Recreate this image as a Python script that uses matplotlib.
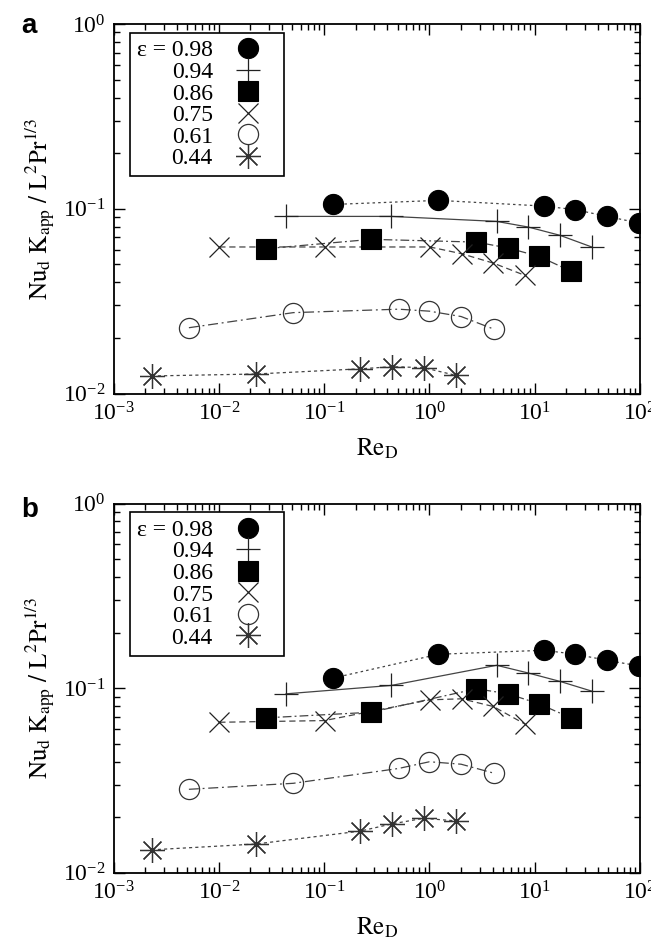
import numpy as np
import matplotlib
matplotlib.use('Agg')
import matplotlib.pyplot as plt

plt.rcParams['font.family'] = ['Liberation Serif', 'DejaVu Serif']
plt.rcParams['mathtext.fontset'] = 'stix'

# Re_D of each porosity series (same in both panels)
re_98 = [0.122, 1.22, 12.2, 24.4, 48.8, 97.7]
re_94 = [0.0435, 0.435, 4.35, 8.7, 17.4, 34.8]
re_86 = [0.028, 0.28, 2.8, 5.6, 11.0, 22.0]
re_75 = [0.0101, 0.101, 1.01, 2.02, 4.04, 8.07]
re_61 = [0.0052, 0.051, 0.51, 1.0, 2.0, 4.1]
re_44 = [0.0023, 0.0224, 0.22, 0.444, 0.88, 1.77]

# panel a
a_98 = [0.1055, 0.111, 0.1034, 0.0988, 0.0909, 0.0837]
a_94 = [0.0909, 0.0909, 0.0854, 0.0796, 0.0718, 0.0621]
a_86 = [0.0608, 0.0683, 0.066, 0.0613, 0.0552, 0.046]
a_75 = [0.0621, 0.0621, 0.0621, 0.0571, 0.0508, 0.0436]
a_61 = [0.0227, 0.0274, 0.0286, 0.0279, 0.0261, 0.0223]
a_44 = [0.01244, 0.01275, 0.0136, 0.01397, 0.0138, 0.01255]

# panel b
b_98 = [0.1134, 0.1525, 0.1603, 0.1525, 0.1414, 0.1318]
b_94 = [0.0931, 0.1034, 0.1329, 0.1207, 0.1087, 0.0963]
b_86 = [0.069, 0.074, 0.0992, 0.0931, 0.0822, 0.069]
b_75 = [0.0653, 0.0667, 0.0864, 0.0875, 0.0795, 0.0639]
b_61 = [0.0283, 0.0305, 0.0367, 0.0399, 0.0387, 0.0346]
b_44 = [0.0133, 0.0143, 0.0168, 0.0184, 0.0197, 0.0191]

labels = ['ε = 0.98', '0.94', '0.86', '0.75', '0.61', '0.44']

# marker / line style per series
styles = [
    dict(marker='o', ms=14.5, mfc='black', mec='black', mew=0.8),
    dict(marker='+', ms=17, mfc='none', mec='#222222', mew=0.9),
    dict(marker='s', ms=14, mfc='black', mec='black', mew=0.8),
    dict(marker='x', ms=14.5, mfc='none', mec='#222222', mew=0.9),
    dict(marker='o', ms=14.5, mfc='none', mec='#333333', mew=0.9),
    dict(marker=(8, 2, 0), ms=18, mfc='none', mec='#333333', mew=0.9),
]
line_styles = [(0, (2, 2.5)), '-', (0, (7, 2.5, 1.5, 2.5)), (0, (5, 3)),
               (0, (8, 3, 1.5, 3)), (0, (2.5, 2.5))]

fig = plt.figure(figsize=(6.51, 9.51), dpi=100)
ax_a = fig.add_axes([113.5/651, 1-393.5/951, 526.5/651, 369.5/951])
ax_b = fig.add_axes([113.5/651, 1-872.7/951, 526.5/651, 369.2/951])

xs = [re_98, re_94, re_86, re_75, re_61, re_44]

for ax, ys in [(ax_a, [a_98, a_94, a_86, a_75, a_61, a_44]),
               (ax_b, [b_98, b_94, b_86, b_75, b_61, b_44])]:
    handles = []
    for x, y, st, ls, lab in zip(xs, ys, styles, line_styles, labels):
        ax.plot(x, y, linestyle=ls, color='#444444', lw=0.9, zorder=2)
        h, = ax.plot(x, y, linestyle='none', label=lab, zorder=3, **st)
        handles.append(h)
    ax.set_xscale('log')
    ax.set_yscale('log')
    ax.set_xlim(1e-3, 1e2)
    ax.set_ylim(1e-2, 1)
    ax.tick_params(which='both', direction='in', top=True, right=True,
                   labelsize=17, width=1.0)
    ax.tick_params(which='major', length=8, pad=6)
    ax.tick_params(which='minor', length=4.5)
    for sp in ax.spines.values():
        sp.set_linewidth(1.3)
    ax.set_xlabel(r'$\mathrm{Re_D}$', fontsize=18, labelpad=8)
    ax.set_ylabel(r'$\mathrm{Nu_d\ K_{app}\ /\ L^2Pr^{1/3}}$', fontsize=18,
                  labelpad=4)
    leg = ax.legend(handles=handles, loc='upper left',
                    bbox_to_anchor=(0.031, 0.976), borderaxespad=0,
                    markerfirst=False, fontsize=17, labelspacing=0.0,
                    handlelength=2.4, handletextpad=0.3, borderpad=0.3,
                    fancybox=False, framealpha=1, edgecolor='black',
                    numpoints=1)
    leg.get_frame().set_linewidth(1.2)
    for col in leg._legend_handle_box.get_children():
        col.align = 'right'

fig.text(0.045, 0.973, 'a', fontsize=20, fontweight='bold',
         family='Liberation Sans', ha='center', va='center')
fig.text(0.045, 0.4637, 'b', fontsize=20, fontweight='bold',
         family='Liberation Sans', ha='center', va='center')

fig.savefig('out.png', dpi=100)
